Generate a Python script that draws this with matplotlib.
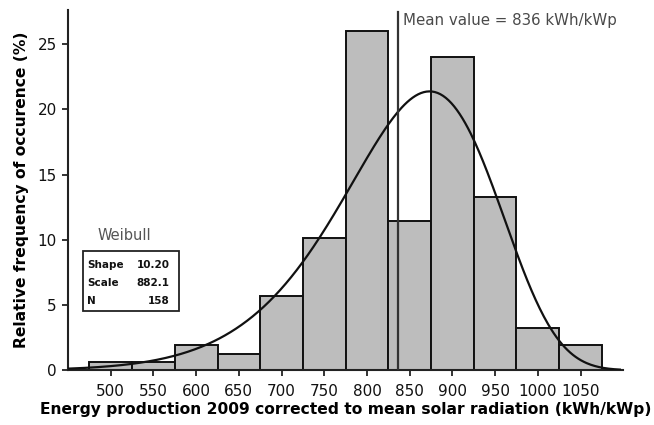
import numpy as np
import matplotlib
matplotlib.use("Agg")
import matplotlib.pyplot as plt

# ---- data ----
bin_centers = [500, 550, 600, 650, 700, 750, 800, 850, 900, 950, 1000, 1050]
rel_freq = [0.6, 0.6, 1.9, 1.25, 5.7, 10.1, 26.0, 11.4, 24.0, 13.3, 3.2, 1.9]
bin_width = 50
weibull_shape = 10.20
weibull_scale = 882.1
n_obs = 158
mean_value = 836
x_ticks = [500, 550, 600, 650, 700, 750, 800, 850, 900, 950, 1000, 1050]
y_ticks = [0, 5, 10, 15, 20, 25]

plt.rcParams['font.family'] = ['DejaVu Sans']

fig = plt.figure(figsize=(6.54, 4.25), dpi=100)
ax = fig.add_axes([0.104, 0.129, 0.849, 0.847])

ax.bar(bin_centers, rel_freq, width=bin_width, color='#bdbdbd',
       edgecolor='#111111', linewidth=1.4, zorder=2)

# fitted Weibull density (from displayed shape/scale), in % per bin
xs = np.linspace(451, 1096, 400)
k, lam = weibull_shape, weibull_scale
pdf = (k / lam) * (xs / lam) ** (k - 1) * np.exp(-(xs / lam) ** k)
ax.plot(xs, pdf * bin_width * 100, color='#111111', lw=1.6, zorder=3)

ax.axvline(mean_value, ymin=0, ymax=0.995, color='#333333', lw=1.6, zorder=4)
ax.text(mean_value + 6, 26.8, f"Mean value = {mean_value} kWh/kWp",
        fontsize=10.8, color='#4a4a4a', va='center', ha='left')

ax.set_xlim(450, 1100)
ax.set_ylim(0, 27.6)
ax.set_xticks(x_ticks)
ax.set_yticks(y_ticks)
ax.tick_params(axis='both', direction='out', length=4, width=1.2,
               labelsize=11, colors='#111111', pad=4)
ax.tick_params(axis='x', pad=6)
for s in ['top', 'right']:
    ax.spines[s].set_visible(False)
for s in ['left', 'bottom']:
    ax.spines[s].set_linewidth(1.5)
    ax.spines[s].set_color('#222222')

ax.set_xlabel("Energy production 2009 corrected to mean solar radiation (kWh/kWp)",
              fontsize=11.2, fontweight='bold', labelpad=2)
ax.set_ylabel("Relative frequency of occurence (%)", fontsize=11.2,
              fontweight='bold', labelpad=6)

# Weibull info box
ax.text(0.054, 0.375, "Weibull", transform=ax.transAxes, fontsize=10.5,
        color='#555555', va='center', ha='left')
box = plt.Rectangle((0.027, 0.164), 0.173, 0.166, transform=ax.transAxes,
                    facecolor='white', edgecolor='#222222', lw=1.3, zorder=5)
ax.add_patch(box)
rows = [("Shape", f"{weibull_shape:.2f}"), ("Scale", f"{weibull_scale:.1f}"),
        ("N", f"{n_obs}")]
row_y = [0.292, 0.243, 0.192]
for (lab, val), y in zip(rows, row_y):
    ax.text(0.035, y, lab, transform=ax.transAxes, fontsize=7.5,
            fontweight='bold', va='center', ha='left', zorder=6, color='#111111')
    ax.text(0.183, y, val, transform=ax.transAxes, fontsize=7.5,
            fontweight='bold', va='center', ha='right', zorder=6, color='#111111')

fig.savefig("out.png", dpi=100)
